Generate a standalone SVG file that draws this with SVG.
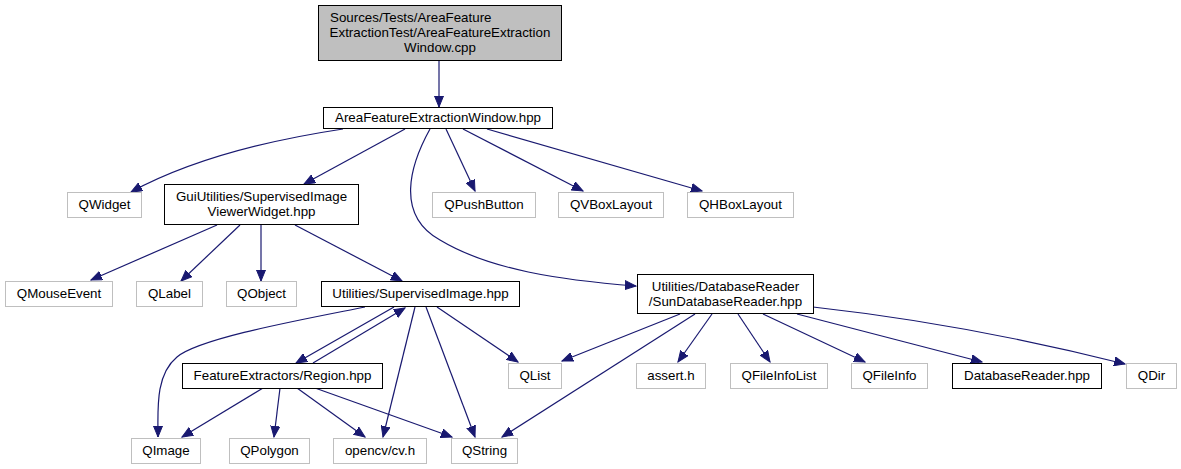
<svg xmlns="http://www.w3.org/2000/svg" width="1181" height="469" viewBox="0 0 1181 469">
<style>
text{font-family:"Liberation Sans",Arial,sans-serif;font-size:13.33px;fill:#000;text-anchor:middle}
.n rect{fill:#fff;stroke:#000;stroke-width:1}
.g rect{fill:#fff;stroke:#bfbfbf;stroke-width:1}
.root rect{fill:#bfbfbf;stroke:#000;stroke-width:1}
#edges path{fill:none;stroke:#191970;stroke-width:1.2;marker-end:url(#ah)}
</style>
<defs>
<marker id="ah" markerUnits="userSpaceOnUse" markerWidth="12" markerHeight="10" refX="11" refY="5" orient="auto">
<path d="M0,0.5 L11,5 L0,9.5 z" fill="#191970" stroke="#191970" stroke-width="1"/>
</marker>
</defs>
<rect width="1181" height="469" fill="#fff"/>
<g id="edges">
<path d="M439,60 L439,107"/>
<path d="M343,129 C270,140 190,160 131,192"/>
<path d="M405,129 L304,184"/>
<path d="M446,129 L475,191"/>
<path d="M463,129 L583,191"/>
<path d="M487,129 L702,191"/>
<path d="M430,129 C410,165 395,215 440,240 C490,270 560,280 636,286"/>
<path d="M217,225 L91,280"/>
<path d="M240,225 L181,281"/>
<path d="M261,225 L261,281"/>
<path d="M295,225 L402,281"/>
<path d="M365,307 C300,320 200,338 177,357 C155,375 158,410 158,437"/>
<path d="M394,307 L296,363"/>
<path d="M313,363 L405,308"/>
<path d="M415,307 L383,437"/>
<path d="M426,307 L475,437"/>
<path d="M437,307 L518,362"/>
<path d="M263,388 L182,437"/>
<path d="M280,388 L274,437"/>
<path d="M297,388 L365,437"/>
<path d="M315,388 L452,437"/>
<path d="M680,314 L562,361"/>
<path d="M695,314 L502,437"/>
<path d="M712,314 L678,362"/>
<path d="M738,314 L770,362"/>
<path d="M763,314 L865,362"/>
<path d="M797,314 L982,362"/>
<path d="M813,307 C930,320 1030,340 1125,364"/>
</g>
<g id="n_cpp" class="root"><rect x="318.5" y="5.5" width="243" height="55"/><text x="330" y="22" style="text-anchor:start">Sources/Tests/AreaFeature</text><text x="440" y="37">ExtractionTest/AreaFeatureExtraction</text><text x="440" y="52">Window.cpp</text></g>
<g id="n_afew" class="n"><rect x="323.5" y="107.5" width="229" height="21"/><text x="438" y="122">AreaFeatureExtractionWindow.hpp</text></g>
<g id="n_qwidget" class="g"><rect x="67.5" y="192.5" width="74" height="25"/><text x="104.5" y="209">QWidget</text></g>
<g id="n_gui" class="n"><rect x="164.5" y="184.5" width="194" height="40"/><text x="261.5" y="201">GuiUtilities/SupervisedImage</text><text x="261.5" y="216">ViewerWidget.hpp</text></g>
<g id="n_qpush" class="g"><rect x="432.5" y="192.5" width="103" height="25"/><text x="484" y="209">QPushButton</text></g>
<g id="n_qvbox" class="g"><rect x="558.5" y="192.5" width="105" height="25"/><text x="611" y="209">QVBoxLayout</text></g>
<g id="n_qhbox" class="g"><rect x="687.5" y="192.5" width="106" height="25"/><text x="740.5" y="209">QHBoxLayout</text></g>
<g id="n_qmouse" class="g"><rect x="5.5" y="281.5" width="107" height="25"/><text x="59" y="298">QMouseEvent</text></g>
<g id="n_qlabel" class="g"><rect x="136.5" y="281.5" width="66" height="25"/><text x="169.5" y="298">QLabel</text></g>
<g id="n_qobject" class="g"><rect x="226.5" y="281.5" width="70" height="25"/><text x="261.5" y="298">QObject</text></g>
<g id="n_supimg" class="n"><rect x="321.5" y="281.5" width="198" height="25"/><text x="420.5" y="298">Utilities/SupervisedImage.hpp</text></g>
<g id="n_sundb" class="n"><rect x="637.5" y="274.5" width="176" height="39"/><text x="725.5" y="291">Utilities/DatabaseReader</text><text x="725.5" y="306">/SunDatabaseReader.hpp</text></g>
<g id="n_region" class="n"><rect x="182.5" y="363.5" width="200" height="25"/><text x="282.5" y="380">FeatureExtractors/Region.hpp</text></g>
<g id="n_qlist" class="g"><rect x="508.5" y="363.5" width="53" height="25"/><text x="535" y="380">QList</text></g>
<g id="n_assert" class="g"><rect x="636.5" y="363.5" width="69" height="25"/><text x="671" y="380">assert.h</text></g>
<g id="n_qfil" class="g"><rect x="730.5" y="363.5" width="97" height="25"/><text x="779" y="380">QFileInfoList</text></g>
<g id="n_qfi" class="g"><rect x="851.5" y="363.5" width="76" height="25"/><text x="889.5" y="380">QFileInfo</text></g>
<g id="n_dbr" class="n"><rect x="952.5" y="363.5" width="149" height="25"/><text x="1027" y="380">DatabaseReader.hpp</text></g>
<g id="n_qdir" class="g"><rect x="1126.5" y="363.5" width="50" height="25"/><text x="1151.5" y="380">QDir</text></g>
<g id="n_qimage" class="g"><rect x="131.5" y="438.5" width="69" height="25"/><text x="166" y="455">QImage</text></g>
<g id="n_qpoly" class="g"><rect x="229.5" y="438.5" width="80" height="25"/><text x="269.5" y="455">QPolygon</text></g>
<g id="n_cv" class="g"><rect x="333.5" y="438.5" width="93" height="25"/><text x="380" y="455">opencv/cv.h</text></g>
<g id="n_qstring" class="g"><rect x="451.5" y="438.5" width="66" height="25"/><text x="484.5" y="455">QString</text></g>
</svg>
